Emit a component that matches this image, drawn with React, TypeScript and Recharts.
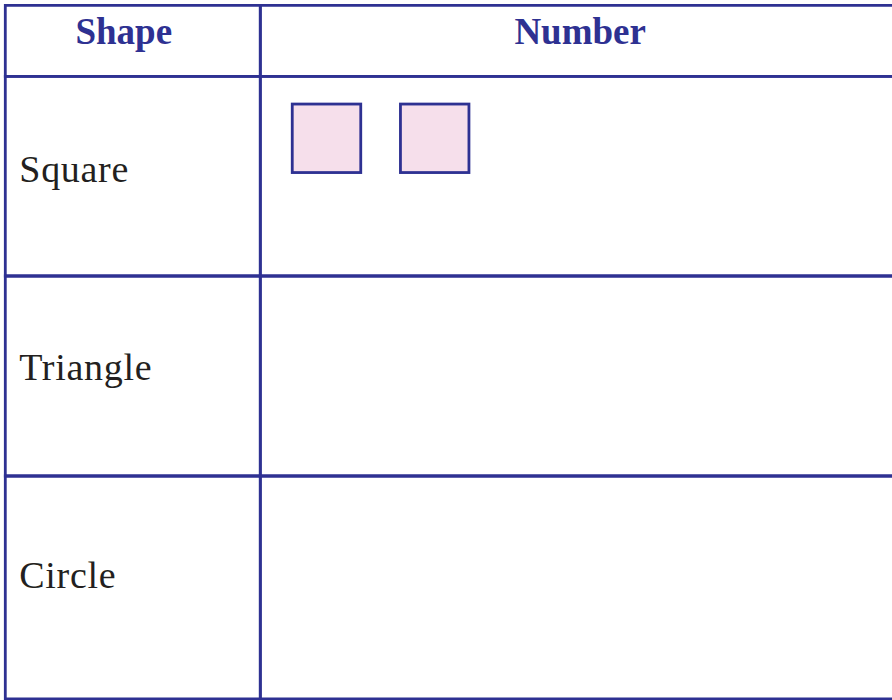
import React from "react";
import { ComposedChart, XAxis, YAxis, Scatter, ReferenceArea } from "recharts";

// ---- data ----
const headers = ["Shape", "Number"];
const shapes = ["Square", "Triangle", "Circle"];
const counts = [2, 0, 0];

// ---- layout / style ----
const W = 892;
const H = 700;
const BLUE = "#2e3192";
const PINK = "#f6dfeb";
const TEXT = "#231f20";
const LW = 2.8;
const LEFT = 5.3;
const DIV = 260.3;
const RIGHT = 900;
const TOP = 5.3;
const HEAD_BOTTOM = 76.3;
const ROW_BOUNDS = [76.3, 276, 476, 699];
const LABEL_BASE = [106, 104, 112];
const SLOT_X0 = 326.5;
const SLOT_GAP = 108.2;
const SLOT_DY = 62;
const SQ = 68.5;
const FONT = "'Liberation Serif', 'Times New Roman', serif";

const points: { x: number; y: number; name: string }[] = [];
shapes.forEach((name, r) => {
  for (let i = 0; i < counts[r]; i++) {
    points.push({ x: SLOT_X0 + i * SLOT_GAP, y: ROW_BOUNDS[r] + SLOT_DY, name });
  }
});

const SquareShape = (props: any) => {
  const { cx, cy } = props;
  return (
    <rect
      x={cx - SQ / 2}
      y={cy - SQ / 2}
      width={SQ}
      height={SQ}
      fill={PINK}
      stroke={BLUE}
      strokeWidth={2.8}
    />
  );
};

const HeaderLabel = (text: string, dx: number) => (props: any) => {
  const vb = props.viewBox || {};
  return (
    <text
      x={vb.x + vb.width / 2 + dx}
      y={vb.y + 39}
      textAnchor="middle"
      fill={BLUE}
      fontFamily={FONT}
      fontWeight="bold"
      fontSize={37}
    >
      {text}
    </text>
  );
};

const RowLabel = (text: string, base: number) => (props: any) => {
  const vb = props.viewBox || {};
  return (
    <text
      x={vb.x + 14}
      y={vb.y + base}
      textAnchor="start"
      fill={TEXT}
      fontFamily={FONT}
      fontSize={38}
      letterSpacing={0.7}
    >
      {text}
    </text>
  );
};

export default function App() {
  return (
    <div style={{ position: "absolute", left: 0, top: 0, width: W, height: H, background: "#fff" }}>
      <ComposedChart width={W} height={H} margin={{ top: 0, right: 0, bottom: 0, left: 0 }} data={points}>
        <XAxis type="number" dataKey="x" domain={[0, W]} hide />
        <YAxis type="number" dataKey="y" domain={[0, H]} reversed hide />
        <ReferenceArea
          x1={LEFT}
          x2={DIV}
          y1={TOP}
          y2={HEAD_BOTTOM}
          fill="none"
          fillOpacity={0}
          stroke={BLUE}
          strokeWidth={LW}
          ifOverflow="hidden"
          label={HeaderLabel(headers[0], -9)}
        />
        <ReferenceArea
          x1={DIV}
          x2={RIGHT}
          y1={TOP}
          y2={HEAD_BOTTOM}
          fill="none"
          fillOpacity={0}
          stroke={BLUE}
          strokeWidth={LW}
          ifOverflow="hidden"
          label={HeaderLabel(headers[1], 0)}
        />
        {shapes.map((s, r) => (
          <ReferenceArea
            key={"l" + s}
            x1={LEFT}
            x2={DIV}
            y1={ROW_BOUNDS[r]}
            y2={ROW_BOUNDS[r + 1]}
            fill="none"
            fillOpacity={0}
            stroke={BLUE}
            strokeWidth={LW}
            ifOverflow="hidden"
            label={RowLabel(s, LABEL_BASE[r])}
          />
        ))}
        {shapes.map((s, r) => (
          <ReferenceArea
            key={"r" + s}
            x1={DIV}
            x2={RIGHT}
            y1={ROW_BOUNDS[r]}
            y2={ROW_BOUNDS[r + 1]}
            fill="none"
            fillOpacity={0}
            stroke={BLUE}
            strokeWidth={LW}
            ifOverflow="hidden"
          />
        ))}
        <Scatter dataKey="y" data={points} shape={SquareShape} isAnimationActive={false} />
      </ComposedChart>
    </div>
  );
}
